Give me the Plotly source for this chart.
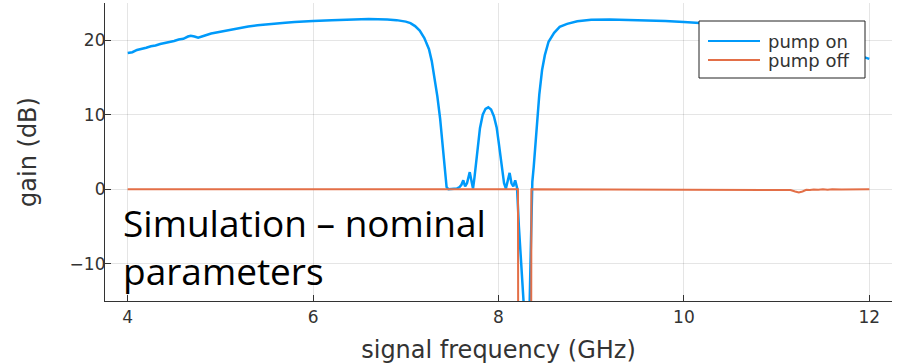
import plotly.graph_objects as go

# ---- data ----
freq_on = [4.00, 4.05, 4.10, 4.15, 4.20, 4.25, 4.30, 4.35, 4.40, 4.45, 4.50, 4.55, 4.60, 4.65,
           4.68, 4.72, 4.76, 4.80, 4.85, 4.90, 5.00, 5.10, 5.20, 5.30, 5.40, 5.50, 5.60, 5.70,
           5.80, 5.90, 6.00, 6.20, 6.40, 6.60, 6.80, 6.90, 7.00, 7.05, 7.10, 7.15, 7.20, 7.25,
           7.28, 7.31, 7.34, 7.37, 7.40, 7.42, 7.44, 7.46, 7.50, 7.55, 7.58, 7.60, 7.62, 7.64,
           7.66, 7.69, 7.71, 7.725, 7.74, 7.77, 7.80, 7.83, 7.86, 7.89, 7.92, 7.95, 7.98, 8.00,
           8.03, 8.06, 8.08, 8.10, 8.12, 8.14, 8.16, 8.18, 8.20, 8.22, 8.24, 8.26, 8.28, 8.32,
           8.345, 8.355, 8.365, 8.38, 8.40, 8.42, 8.44, 8.47, 8.50, 8.54, 8.60, 8.66, 8.74,
           8.85, 9.00, 9.20, 9.40, 9.64, 9.80, 10.00, 10.17, 10.50, 10.80, 11.00, 11.30, 11.60,
           11.80, 12.00]
gain_on = [18.3, 18.4, 18.7, 18.8, 19.0, 19.2, 19.3, 19.5, 19.6, 19.8, 19.9, 20.1, 20.2, 20.5,
           20.6, 20.5, 20.35, 20.5, 20.7, 20.9, 21.15, 21.4, 21.6, 21.85, 22.0, 22.15, 22.25, 22.35,
           22.45, 22.55, 22.6, 22.7, 22.8, 22.85, 22.8, 22.7, 22.5, 22.3, 21.9, 21.3, 20.3, 18.8,
           17.2, 15.0, 12.5, 9.5, 5.5, 2.5, 0.3, 0.0, 0.0, 0.1, 0.3, 0.6, 1.2, 0.4,
           0.8, 2.3, 1.0, 0.1, 1.5, 5.0, 8.2, 10.0, 10.8, 11.0, 10.7, 9.8, 8.3, 6.5,
           3.5, 0.8, 0.1, 1.0, 2.2, 0.8, 0.4, 1.2, 0.2, -5.0, -9.0, -13.0, -18.0, -25.0,
           -10.0, -1.0, 1.0, 3.0, 6.5, 10.0, 12.7, 16.0, 18.0, 19.8, 21.0, 21.8, 22.2,
           22.55, 22.75, 22.8, 22.75, 22.7, 22.6, 22.45, 22.3, 21.9, 21.3, 20.8, 19.9, 19.0,
           18.3, 17.5]

freq_off = [4.00, 8.20, 8.21, 8.215, 8.35, 8.355, 11.10, 11.15, 11.20, 11.24, 11.28, 11.32,
            11.36, 11.40, 11.45, 11.50, 11.55, 11.60, 11.70, 11.80, 11.90, 12.00]
gain_off = [0.0, 0.0, 0.0, -40.0, -40.0, 0.0, 0.0, -0.1, -0.3, -0.42, -0.3, -0.08,
            -0.1, -0.02, -0.08, 0.0, -0.06, 0.0, -0.05, 0.0, -0.03, 0.0]

x_ticks = [4, 6, 8, 10, 12]
y_ticks = [-10, 0, 10, 20]
series_names = ["pump on", "pump off"]
note_text = "Simulation – nominal<br>parameters"

BLUE = "#009AFA"
ORANGE = "#E36F47"
COLORS = [BLUE, ORANGE]
WIDTHS = [2.5, 2]
FONT = "DejaVu Sans"

# plot area in pixels (figure is 910 x 364)
L, R, T, B = 105, 18, 3, 63
PW, PH = 910 - L - R, 364 - T - B


def px(xp):
    return (xp - L) / PW


def py(yp):
    return (364 - B - yp) / PH


fig = go.Figure()
fig.add_trace(go.Scatter(x=freq_on, y=gain_on, mode="lines", name=series_names[0],
                         showlegend=False, line=dict(color=COLORS[0], width=WIDTHS[0])))
fig.add_trace(go.Scatter(x=freq_off, y=gain_off, mode="lines", name=series_names[1],
                         showlegend=False, line=dict(color=COLORS[1], width=WIDTHS[1])))

axis_common = dict(
    showgrid=True, gridcolor="rgba(0,0,0,0.1)", gridwidth=1,
    showline=True, linecolor="#333", linewidth=1.2,
    ticks="inside", ticklen=6, tickcolor="#333", tickwidth=1.2,
    zeroline=False, tickfont=dict(family=FONT, size=17, color="#333"),
    title_font=dict(family=FONT, size=24, color="#333"),
)
fig.update_xaxes(range=[3.755, 12.245], tickvals=x_ticks,
                 title_text="signal frequency (GHz)", title_standoff=16, **axis_common)
fig.update_yaxes(range=[-15, 25], tickvals=y_ticks, tickformat="d", ticklabelstandoff=-5,
                 title_text="gain (dB)", title_standoff=26, **axis_common)

# text note
fig.add_annotation(text=note_text, xref="paper", yref="paper", x=px(121), y=py(195),
                   xanchor="left", yanchor="top", align="left", showarrow=False,
                   font=dict(family="Open Sans", size=37, color="black"))

# legend box (drawn as a framed box with sample lines)
fig.add_shape(type="rect", xref="paper", yref="paper",
              x0=px(699), x1=px(865), y0=py(78), y1=py(21),
              line=dict(color="#222", width=1), fillcolor="white", layer="above")
for i, yy in enumerate([41, 60]):
    fig.add_shape(type="line", xref="paper", yref="paper",
                  x0=px(708), x1=px(760), y0=py(yy), y1=py(yy),
                  line=dict(color=COLORS[i], width=2), layer="above")
    fig.add_annotation(text=series_names[i], xref="paper", yref="paper",
                       x=px(766), y=py(yy), xanchor="left", yanchor="middle",
                       showarrow=False, font=dict(family=FONT, size=18, color="#333"))

fig.update_layout(
    width=910, height=364,
    margin=dict(l=L, r=R, t=T, b=B),
    paper_bgcolor="white", plot_bgcolor="white",
    showlegend=False,
)
fig.write_html("out.html", config={"displayModeBar": False},
               post_script="document.body.style.margin='0px';")
